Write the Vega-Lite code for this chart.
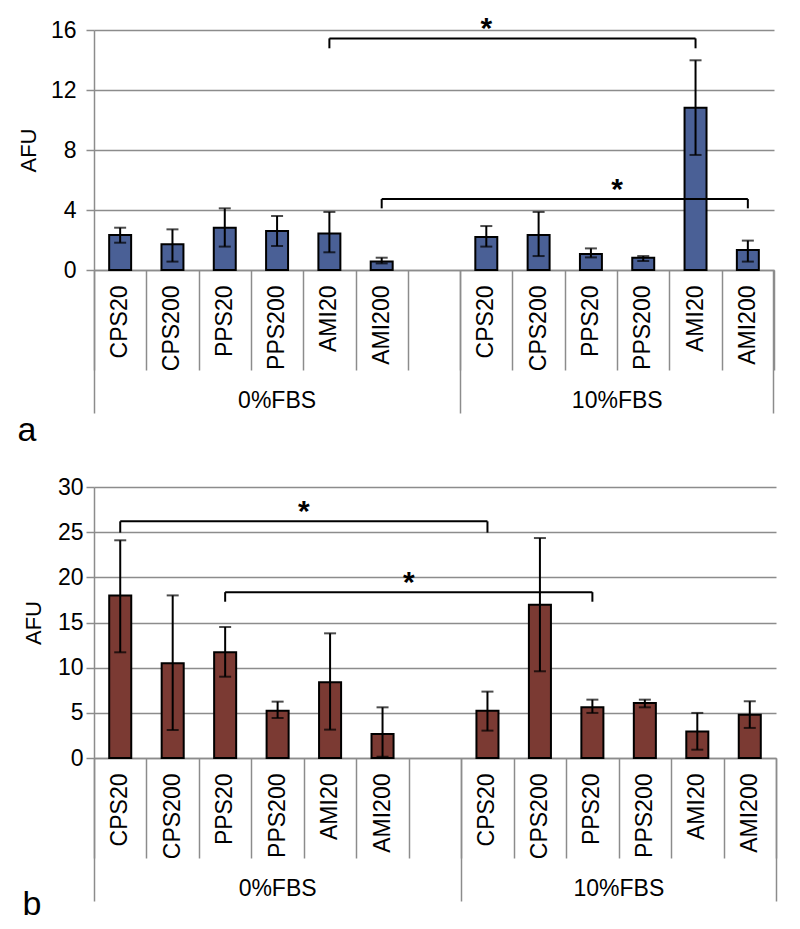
{
  "$schema": "https://vega.github.io/schema/vega-lite/v6.json",
  "background": "white",
  "padding": {"left": 17, "top": 14, "right": 5, "bottom": 5},
  "datasets": {
    "a_bars": [
      {"cell": "0%FBS CPS20", "mean": 2.33, "lo": 1.82, "hi": 2.82},
      {"cell": "0%FBS CPS200", "mean": 1.71, "lo": 0.56, "hi": 2.71},
      {"cell": "0%FBS PPS20", "mean": 2.82, "lo": 1.56, "hi": 4.11},
      {"cell": "0%FBS PPS200", "mean": 2.6, "lo": 1.6, "hi": 3.6},
      {"cell": "0%FBS AMI20", "mean": 2.44, "lo": 1.18, "hi": 3.87},
      {"cell": "0%FBS AMI200", "mean": 0.56, "lo": 0.44, "hi": 0.82},
      {"cell": "10%FBS CPS20", "mean": 2.2, "lo": 1.56, "hi": 2.93},
      {"cell": "10%FBS CPS200", "mean": 2.33, "lo": 0.93, "hi": 3.87},
      {"cell": "10%FBS PPS20", "mean": 1.07, "lo": 0.84, "hi": 1.44},
      {"cell": "10%FBS PPS200", "mean": 0.82, "lo": 0.6, "hi": 0.93},
      {"cell": "10%FBS AMI20", "mean": 10.82, "lo": 7.67, "hi": 13.98},
      {"cell": "10%FBS AMI200", "mean": 1.33, "lo": 0.56, "hi": 1.96}
    ],
    "a_brackets": [
      {"from": "0%FBS AMI20", "to": "10%FBS AMI20", "level": 15.44, "foot": 14.78, "star_at": "10%FBS CPS20"},
      {"from": "0%FBS AMI200", "to": "10%FBS AMI200", "level": 4.73, "foot": 4.11, "star_at": "10%FBS PPS200"}
    ],
    "b_bars": [
      {"cell": "0%FBS CPS20", "mean": 18.0, "lo": 11.7, "hi": 24.1},
      {"cell": "0%FBS CPS200", "mean": 10.5, "lo": 3.1, "hi": 18.0},
      {"cell": "0%FBS PPS20", "mean": 11.7, "lo": 9.0, "hi": 14.5},
      {"cell": "0%FBS PPS200", "mean": 5.24, "lo": 4.43, "hi": 6.24},
      {"cell": "0%FBS AMI20", "mean": 8.38, "lo": 3.14, "hi": 13.8},
      {"cell": "0%FBS AMI200", "mean": 2.66, "lo": 0.14, "hi": 5.61},
      {"cell": "10%FBS CPS20", "mean": 5.24, "lo": 3.03, "hi": 7.35},
      {"cell": "10%FBS CPS200", "mean": 16.96, "lo": 9.6, "hi": 24.35},
      {"cell": "10%FBS PPS20", "mean": 5.61, "lo": 4.99, "hi": 6.46},
      {"cell": "10%FBS PPS200", "mean": 6.1, "lo": 5.61, "hi": 6.46},
      {"cell": "10%FBS AMI20", "mean": 2.92, "lo": 0.92, "hi": 4.99},
      {"cell": "10%FBS AMI200", "mean": 4.8, "lo": 3.33, "hi": 6.28}
    ],
    "b_brackets": [
      {"from": "0%FBS CPS20", "to": "10%FBS CPS20", "level": 26.2, "foot": 24.95, "star_at": "0%FBS AMI20"},
      {"from": "0%FBS PPS20", "to": "10%FBS PPS20", "level": 18.36, "foot": 17.3, "star_at": "0%FBS gap"}
    ]
  },
  "config": {
    "view": {"stroke": null},
    "axis": {
      "labelFont": "Liberation Sans", "labelFontSize": 23, "labelColor": "#000",
      "titleFont": "Liberation Sans", "titleFontSize": 22, "titleFontWeight": "normal", "titleColor": "#000",
      "domainColor": "#8c8c8c", "tickColor": "#8c8c8c", "gridColor": "#8c8c8c",
      "domainWidth": 1.5, "tickWidth": 1.5, "gridWidth": 1.5
    },
    "text": {"font": "Liberation Sans"}
  },
  "spacing": 28,
  "vconcat": [
    {
      "width": 680, "height": 240,
      "title": {"text": "a", "orient": "bottom", "anchor": "start", "frame": "bounds", "fontSize": 34, "fontWeight": "normal", "font": "Liberation Sans", "color": "#000", "offset": 0},
      "resolve": {"axis": {"x": "independent", "y": "independent"}},
      "layer": [
        {
          "data": {"name": "a_bars"},
          "mark": {"type": "bar", "width": {"band": 0.42}, "fill": "#4a6096", "stroke": "#000", "strokeWidth": 2},
          "encoding": {
            "x": {"field": "cell", "type": "nominal", "sort": null,
              "scale": {"domain": ["0%FBS CPS20","0%FBS CPS200","0%FBS PPS20","0%FBS PPS200","0%FBS AMI20","0%FBS AMI200","0%FBS gap","10%FBS CPS20","10%FBS CPS200","10%FBS PPS20","10%FBS PPS200","10%FBS AMI20","10%FBS AMI200"], "paddingInner": 0, "paddingOuter": 0},
              "axis": {"orient": "bottom", "title": null, "ticks": false, "domain": true, "grid": false, "labelAngle": -90, "labelPadding": 15, "labelFontSize": 23, "labelOverlap": false, "labelExpr": "indexof(datum.label, 'gap') >= 0 ? '' : split(datum.label, ' ')[1]"}},
            "y": {"field": "mean", "type": "quantitative", "scale": {"domain": [0, 16], "nice": false},
              "axis": {"orient": "left", "title": "AFU", "titleFontSize": 22, "labelFontSize": 23, "values": [0, 4, 8, 12, 16], "grid": true, "tickSize": 8, "labelPadding": 10, "titlePadding": 10}}
          }
        },
        {
          "data": {"name": "a_bars"},
          "mark": {"type": "rule", "stroke": "#000", "strokeWidth": 2},
          "encoding": {
            "x": {"field": "cell", "type": "nominal", "sort": null, "axis": {"orient": "bottom", "title": null, "tickBand": "extent", "tickSize": 100, "labels": false, "domain": false, "grid": false}},
            "y": {"field": "lo", "type": "quantitative", "axis": null},
            "y2": {"field": "hi"}
          }
        },
        {
          "data": {"name": "a_bars"},
          "mark": {"type": "tick", "orient": "horizontal", "size": 12, "thickness": 2, "color": "#000"},
          "encoding": {
            "x": {"field": "cell", "type": "nominal", "sort": null, "axis": {"orient": "bottom", "title": null, "values": ["0%FBS gap", "10%FBS AMI200"], "bandPosition": 1, "tickExtra": false, "tickSize": 143, "labels": false, "domain": false, "grid": false}},
            "y": {"field": "hi", "type": "quantitative", "axis": null}
          }
        },
        {
          "data": {"name": "a_bars"},
          "mark": {"type": "tick", "orient": "horizontal", "size": 12, "thickness": 2, "color": "#000"},
          "encoding": {
            "x": {"field": "cell", "type": "nominal", "sort": null, "axis": {"orient": "bottom", "title": null, "values": ["0%FBS CPS20"], "bandPosition": 0, "tickExtra": false, "tickSize": 143, "labels": false, "domain": false, "grid": false}},
            "y": {"field": "lo", "type": "quantitative", "axis": null}
          }
        },
        {
          "data": {"name": "a_brackets"},
          "mark": {"type": "rule", "stroke": "#000", "strokeWidth": 2},
          "encoding": {
            "x": {"field": "from", "type": "nominal", "sort": null, "axis": {"orient": "bottom", "title": null, "values": ["0%FBS PPS200"], "ticks": false, "domain": false, "grid": false, "labelAngle": 0, "labelFontSize": 23, "labelPadding": 119, "labelExpr": "split(datum.label, ' ')[0]"}},
            "x2": {"field": "to"},
            "y": {"field": "level", "type": "quantitative", "axis": null}
          }
        },
        {
          "data": {"name": "a_brackets"},
          "mark": {"type": "rule", "stroke": "#000", "strokeWidth": 2},
          "encoding": {
            "x": {"field": "from", "type": "nominal", "sort": null, "axis": {"orient": "bottom", "title": null, "values": ["10%FBS PPS200"], "ticks": false, "domain": false, "grid": false, "labelAngle": 0, "labelFontSize": 23, "labelPadding": 119, "labelOffset": -26, "labelExpr": "split(datum.label, ' ')[0]"}},
            "y": {"field": "level", "type": "quantitative", "axis": null},
            "y2": {"field": "foot"}
          }
        },
        {
          "data": {"name": "a_brackets"},
          "mark": {"type": "rule", "stroke": "#000", "strokeWidth": 2},
          "encoding": {
            "x": {"field": "to", "type": "nominal", "sort": null, "axis": null},
            "y": {"field": "level", "type": "quantitative", "axis": null},
            "y2": {"field": "foot"}
          }
        },
        {
          "data": {"name": "a_brackets"},
          "transform": [{"filter": "datum.star_at == '10%FBS CPS20'"}],
          "mark": {"type": "text", "text": "*", "fontSize": 30, "fontWeight": "bold", "baseline": "alphabetic", "align": "center", "color": "#000"},
          "encoding": {
            "x": {"field": "star_at", "type": "nominal", "sort": null, "axis": null},
            "y": {"field": "level", "type": "quantitative", "axis": null}
          }
        },
        {
          "data": {"name": "a_brackets"},
          "transform": [{"filter": "datum.star_at != '10%FBS CPS20'"}],
          "mark": {"type": "text", "text": "*", "fontSize": 30, "fontWeight": "bold", "baseline": "alphabetic", "align": "center", "color": "#000"},
          "encoding": {
            "x": {"field": "star_at", "type": "nominal", "sort": null, "bandPosition": 0, "axis": null},
            "y": {"field": "level", "type": "quantitative", "axis": null}
          }
        }
      ]
    },
    {
      "width": 682, "height": 271,
      "title": {"text": "b", "orient": "bottom", "anchor": "start", "frame": "bounds", "fontSize": 34, "fontWeight": "normal", "font": "Liberation Sans", "color": "#000", "offset": -14},
      "resolve": {"axis": {"x": "independent", "y": "independent"}},
      "layer": [
        {
          "data": {"name": "b_bars"},
          "mark": {"type": "bar", "width": {"band": 0.42}, "fill": "#7b3a33", "stroke": "#000", "strokeWidth": 2},
          "encoding": {
            "x": {"field": "cell", "type": "nominal", "sort": null,
              "scale": {"domain": ["0%FBS CPS20","0%FBS CPS200","0%FBS PPS20","0%FBS PPS200","0%FBS AMI20","0%FBS AMI200","0%FBS gap","10%FBS CPS20","10%FBS CPS200","10%FBS PPS20","10%FBS PPS200","10%FBS AMI20","10%FBS AMI200"], "paddingInner": 0, "paddingOuter": 0},
              "axis": {"orient": "bottom", "title": null, "ticks": false, "domain": true, "grid": false, "labelAngle": -90, "labelPadding": 15, "labelFontSize": 23, "labelOverlap": false, "labelExpr": "indexof(datum.label, 'gap') >= 0 ? '' : split(datum.label, ' ')[1]"}},
            "y": {"field": "mean", "type": "quantitative", "scale": {"domain": [0, 30], "nice": false},
              "axis": {"orient": "left", "title": "AFU", "titleFontSize": 22, "labelFontSize": 23, "values": [0, 5, 10, 15, 20, 25, 30], "grid": true, "tickSize": 8, "labelPadding": 3, "titlePadding": 12}}
          }
        },
        {
          "data": {"name": "b_bars"},
          "mark": {"type": "rule", "stroke": "#000", "strokeWidth": 2},
          "encoding": {
            "x": {"field": "cell", "type": "nominal", "sort": null, "axis": {"orient": "bottom", "title": null, "tickBand": "extent", "tickSize": 100, "labels": false, "domain": false, "grid": false}},
            "y": {"field": "lo", "type": "quantitative", "axis": null},
            "y2": {"field": "hi"}
          }
        },
        {
          "data": {"name": "b_bars"},
          "mark": {"type": "tick", "orient": "horizontal", "size": 12, "thickness": 2, "color": "#000"},
          "encoding": {
            "x": {"field": "cell", "type": "nominal", "sort": null, "axis": {"orient": "bottom", "title": null, "values": ["0%FBS gap", "10%FBS AMI200"], "bandPosition": 1, "tickExtra": false, "tickSize": 143, "labels": false, "domain": false, "grid": false}},
            "y": {"field": "hi", "type": "quantitative", "axis": null}
          }
        },
        {
          "data": {"name": "b_bars"},
          "mark": {"type": "tick", "orient": "horizontal", "size": 12, "thickness": 2, "color": "#000"},
          "encoding": {
            "x": {"field": "cell", "type": "nominal", "sort": null, "axis": {"orient": "bottom", "title": null, "values": ["0%FBS CPS20"], "bandPosition": 0, "tickExtra": false, "tickSize": 143, "labels": false, "domain": false, "grid": false}},
            "y": {"field": "lo", "type": "quantitative", "axis": null}
          }
        },
        {
          "data": {"name": "b_brackets"},
          "mark": {"type": "rule", "stroke": "#000", "strokeWidth": 2},
          "encoding": {
            "x": {"field": "from", "type": "nominal", "sort": null, "axis": {"orient": "bottom", "title": null, "values": ["0%FBS PPS200"], "ticks": false, "domain": false, "grid": false, "labelAngle": 0, "labelFontSize": 23, "labelPadding": 119, "labelExpr": "split(datum.label, ' ')[0]"}},
            "x2": {"field": "to"},
            "y": {"field": "level", "type": "quantitative", "axis": null}
          }
        },
        {
          "data": {"name": "b_brackets"},
          "mark": {"type": "rule", "stroke": "#000", "strokeWidth": 2},
          "encoding": {
            "x": {"field": "from", "type": "nominal", "sort": null, "axis": {"orient": "bottom", "title": null, "values": ["10%FBS PPS200"], "ticks": false, "domain": false, "grid": false, "labelAngle": 0, "labelFontSize": 23, "labelPadding": 119, "labelOffset": -26, "labelExpr": "split(datum.label, ' ')[0]"}},
            "y": {"field": "level", "type": "quantitative", "axis": null},
            "y2": {"field": "foot"}
          }
        },
        {
          "data": {"name": "b_brackets"},
          "mark": {"type": "rule", "stroke": "#000", "strokeWidth": 2},
          "encoding": {
            "x": {"field": "to", "type": "nominal", "sort": null, "axis": null},
            "y": {"field": "level", "type": "quantitative", "axis": null},
            "y2": {"field": "foot"}
          }
        },
        {
          "data": {"name": "b_brackets"},
          "mark": {"type": "text", "text": "*", "fontSize": 30, "fontWeight": "bold", "baseline": "alphabetic", "align": "center", "color": "#000"},
          "encoding": {
            "x": {"field": "star_at", "type": "nominal", "sort": null, "bandPosition": 0, "axis": null},
            "y": {"field": "level", "type": "quantitative", "axis": null}
          }
        }
      ]
    }
  ]
}
